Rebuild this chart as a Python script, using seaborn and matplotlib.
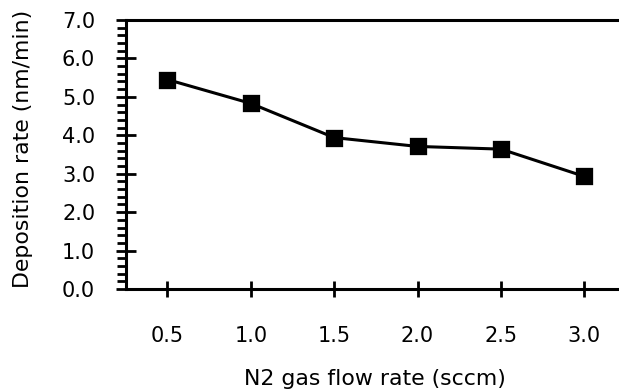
import matplotlib
matplotlib.use("Agg")
import matplotlib.pyplot as plt
import seaborn as sns
import numpy as np
from matplotlib.ticker import MultipleLocator

flow_labels = ["0.5", "1.0", "1.5", "2.0", "2.5", "3.0"]
deposition_rate = [5.45, 4.83, 3.94, 3.71, 3.64, 2.93]
y_ticks = [0.0, 1.0, 2.0, 3.0, 4.0, 5.0, 6.0, 7.0]

sns.set_theme(style="white")
plt.rcParams["font.family"] = ["DejaVu Sans"]
plt.rcParams["text.color"] = "black"
plt.rcParams["axes.labelcolor"] = "black"
plt.rcParams["xtick.color"] = "black"
plt.rcParams["ytick.color"] = "black"

W, H = 619, 389
fig = plt.figure(figsize=(W / 100, H / 100), dpi=100)
ax_w = 626 - 125.7
ax_h = 289 - 20
ax = fig.add_axes([125.7 / W, (H - 289) / H, ax_w / W, ax_h / H])

sns.pointplot(x=flow_labels, y=deposition_rate, ax=ax, color="black",
              markers="s", linestyles="-", markersize=10.8, linewidth=2.2,
              errorbar=None)

ax.set_xlim(-0.5, 5.5)
ax.set_ylim(0, 7.0)
ax.set_yticks(y_ticks)
ax.set_yticklabels([f"{v:.1f}" for v in y_ticks])
ax.yaxis.set_minor_locator(MultipleLocator(0.2))

for side in ["top", "bottom", "left"]:
    ax.spines[side].set_visible(True)
    ax.spines[side].set_color("black")
    ax.spines[side].set_linewidth(2.2)
ax.spines["right"].set_visible(False)

ax.tick_params(axis="y", which="major", direction="inout", length=14, width=2,
               colors="black", labelsize=15, pad=15, left=True)
ax.tick_params(axis="y", which="minor", direction="out", length=6.5, width=2,
               colors="black", left=True)
ax.tick_params(axis="x", which="major", direction="inout", length=11, width=2,
               colors="black", labelsize=15, pad=21, bottom=True)

ax.set_xlabel("N2 gas flow rate (sccm)", fontsize=15.8, color="black")
ax.set_ylabel("Deposition rate (nm/min)", fontsize=15.8, color="black")
ax.xaxis.label.set_va("baseline")
ax.xaxis.set_label_coords((375 - 125.7) / ax_w, (289 - 385) / ax_h)
ax.yaxis.set_label_coords((33 - 125.7) / ax_w, (289 - 149) / ax_h)

fig.savefig("out.png", dpi=100)
